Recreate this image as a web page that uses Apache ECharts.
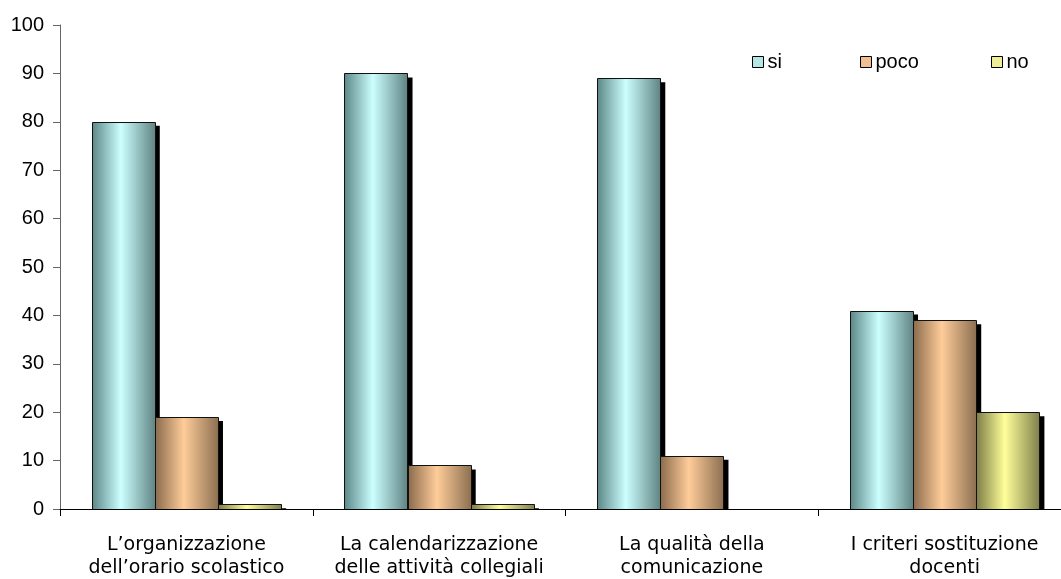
<!DOCTYPE html>
<html>
<head>
<meta charset="utf-8">
<script src="https://cdn.jsdelivr.net/npm/echarts@6/dist/echarts.min.js"></script>
<style>
html,body{margin:0;padding:0;background:#fff;}
#chart{width:1061px;height:579px;}
</style>
</head>
<body>
<div id="chart"></div>
<script>
var categories = [
  "L\u2019organizzazione\ndell\u2019orario scolastico",
  "La calendarizzazione\ndelle attività collegiali",
  "La qualità della\ncomunicazione",
  "I criteri sostituzione\ndocenti"
];
var seriesNames = ["si", "poco", "no"];
var siValues = [80, 90, 89, 41];
var pocoValues = [19, 9, 11, 39];
var noValues = [1, 1, 0, 20];
var yTicks = [0, 10, 20, 30, 40, 50, 60, 70, 80, 90, 100];

function grad(edgeL, mid, edgeR) {
  return new echarts.graphic.LinearGradient(0, 0, 1, 0, [
    {offset: 0, color: edgeL},
    {offset: 0.45, color: mid},
    {offset: 1, color: edgeR}
  ]);
}
var fills = [
  grad('#5b8686', '#ccffff', '#5f8282'),
  grad('#8a6a4c', '#ffcc99', '#8a6e50'),
  grad('#7c7c46', '#ffff99', '#7e7e4c')
];
var legendColors = ['#b4e6e6', '#f2bf92', '#eeee94'];
var legendLeft = [752, 860, 991];
var nSeries = seriesNames.length;
var gapRatio = 0.25;

var chart = echarts.init(document.getElementById('chart'), null, {renderer: 'canvas'});
var values = [siValues, pocoValues, noValues];

function makeRender(si) {
  return function (params, api) {
    var idx = api.value(0);
    var val = api.value(1);
    if (!val) return null;
    var top = api.coord([idx, val]);
    var base = api.coord([idx, 0]);
    var band = api.size([1, 0])[0];
    var bw = band * (1 - gapRatio) / nSeries;
    var x = top[0] - band * (1 - gapRatio) / 2 + si * bw;
    var y = top[1];
    var h = base[1] - y;
    var sx = 5, sy = 4;
    return {
      type: 'group',
      children: [
        {type: 'rect', shape: {x: x + sx, y: y + sy, width: bw, height: Math.max(0, h - sy)},
         style: {fill: '#000'}},
        {type: 'rect', shape: {x: Math.round(x) + 0.5, y: Math.round(y) + 0.5, width: Math.round(bw), height: Math.round(h)},
         style: {fill: fills[si], stroke: '#111', lineWidth: 1}}
      ]
    };
  };
}

var series = seriesNames.map(function (n, i) {
  return {
    name: n,
    type: 'custom',
    data: values[i].map(function (v, k) { return [k, v]; }),
    encode: {x: 0, y: 1},
    renderItem: makeRender(i),
    itemStyle: {color: legendColors[i]},
    animation: false
  };
});
var legends = seriesNames.map(function (n, i) {
  return {
    data: [{name: n, itemStyle: {color: legendColors[i], borderColor: '#000', borderWidth: 1}}],
    left: legendLeft[i],
    top: 52,
    padding: 0,
    itemWidth: 11,
    itemHeight: 11,
    itemGap: 5,
    icon: 'rect',
    selectedMode: false,
    textStyle: {fontFamily: 'Liberation Sans, Arial', fontSize: 20, color: '#000', padding: [0, 0, 0, -1]}
  };
});
chart.setOption({
  backgroundColor: '#fff',
  animation: false,
  legend: legends,
  grid: {left: 60, right: -10, top: 25, bottom: 70, containLabel: false, outerBoundsMode: 'none'},
  xAxis: {
    type: 'category',
    data: categories,
    z: 10,
    axisLine: {lineStyle: {color: '#000', width: 1}},
    axisTick: {show: true, length: 7, lineStyle: {color: '#000'}},
    axisLabel: {
      interval: 0,
      margin: 25,
      fontFamily: 'DejaVu Sans',
      fontSize: 19,
      lineHeight: 23,
      color: '#000'
    }
  },
  yAxis: {
    type: 'value',
    min: yTicks[0],
    max: yTicks[yTicks.length - 1],
    interval: 10,
    axisLine: {show: true, lineStyle: {color: '#666', width: 1}},
    axisTick: {show: true, length: 7, lineStyle: {color: '#666'}},
    splitLine: {show: false},
    axisLabel: {margin: 16, fontFamily: 'Liberation Sans, Arial', fontSize: 20, color: '#000'}
  },
  series: series
});
</script>
</body>
</html>
